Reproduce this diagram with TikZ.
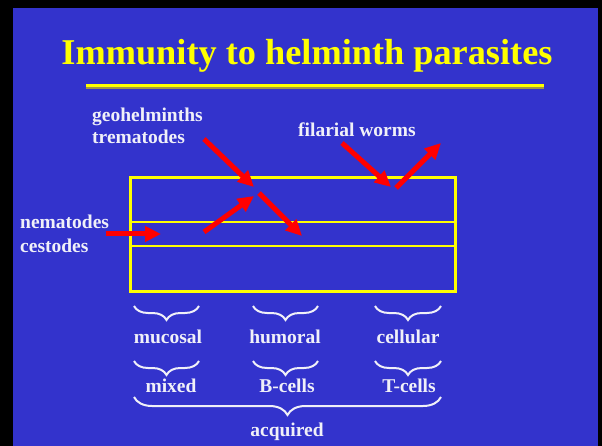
\documentclass[tikz,border=0pt]{standalone}
\usepackage{fontspec}
\setmainfont{Liberation Serif}
\usetikzlibrary{arrows.meta,positioning,decorations.pathreplacing}
\definecolor{slideblue}{RGB}{51,51,204}
\definecolor{slideyellow}{RGB}{255,255,0}
\definecolor{shadowline}{RGB}{160,150,70}
\definecolor{wormred}{RGB}{255,0,0}
\definecolor{paper}{RGB}{240,240,248}

\begin{document}
\begin{tikzpicture}[
  x=1pt, y=-1pt,
  lbl/.style={text=paper, font=\bfseries\fontsize{19.5}{22}\selectfont, inner sep=0pt, align=left},
  worm/.style={line width=5pt, wormred, -{Triangle[length=16pt,width=15pt]}},
  group/.style={paper, line width=2pt, decorate, decoration={brace, mirror, amplitude=14pt}},
  lane/.style={slideyellow, line width=2pt}
]
% slide frame
\fill[black] (0,0) rectangle (602,446);
\fill[slideblue] (13,8) rectangle (598,446);

% title
\node[anchor=base, text=slideyellow, font=\bfseries\fontsize{36.3}{40}\selectfont, inner sep=0pt] (title) at (307,65) {Immunity to helminth parasites};
\draw[shadowline, line width=2pt] (86,88) -- (544,88);
\draw[slideyellow, line width=2.5pt] (86,85.5) -- (544,85.5);

% body layers
\draw[slideyellow, line width=3pt] (130,178) rectangle (455,291);
\draw[lane] (130,222) -- (455,222);
\draw[lane] (130,246) -- (455,246);

% parasites
\node[lbl, anchor=base west] (geo) at (92,122) {geohelminths};
\node[lbl, anchor=base west] (trem) at (92,144) {trematodes};
\node[lbl, anchor=base west] (filar) at (298,137) {filarial worms};
\node[lbl, anchor=base west] (nema) at (20,229) {nematodes};
\node[lbl, anchor=base west] (cest) at (20,253) {cestodes};

% worm routes
\coordinate (g1) at (204,139);
\coordinate (g2) at (254,187);
\coordinate (g3) at (204,232);
\coordinate (g4) at (254,196);
\coordinate (g5) at (259,193);
\coordinate (g6) at (302,236);
\coordinate (n1) at (106,234);
\coordinate (n2) at (161,234);
\coordinate (f1) at (342,143);
\coordinate (f2) at (391,187);
\coordinate (f3) at (396,188);
\coordinate (f4) at (441,143);
\draw[worm] (g1) -- (g2);
\draw[worm] (g3) -- (g4);
\draw[worm] (g5) -- (g6);
\draw[worm] (n1) -- (n2);
\draw[worm] (f1) -- (f2);
\draw[worm] (f3) -- (f4);

% responses
\draw[group] (134,306) -- (199,306);
\draw[group] (253,306) -- (318,306);
\draw[group] (375,306) -- (441,306);
\node[lbl, anchor=base] (muc) at (168,343) {mucosal};
\node[lbl, anchor=base] (hum) at (285,343) {humoral};
\node[lbl, anchor=base] (cel) at (408,343) {cellular};

\draw[group] (134,361) -- (199,361);
\draw[group] (253,361) -- (318,361);
\draw[group] (375,361) -- (441,361);
\node[lbl, anchor=base] (mix) at (171,392) {mixed};
\node[lbl, anchor=base] (bcell) at (287,392) {B-cells};
\node[lbl, anchor=base] (tcell) at (409,392) {T-cells};

\draw[group, decoration={amplitude=18pt}] (134,397) -- (441,397);
\node[lbl, anchor=base] (acq) at (287,436) {acquired};
\end{tikzpicture}
\end{document}
